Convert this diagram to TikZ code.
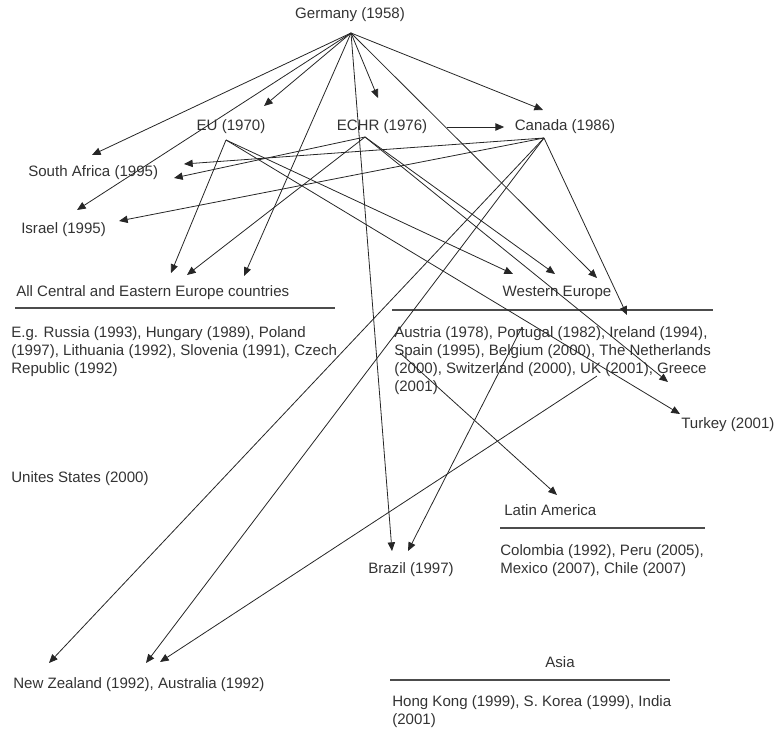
\documentclass[tikz,border=0pt]{standalone}
\usepackage{fontspec}
\setmainfont{Liberation Sans}
\usetikzlibrary{arrows.meta}

\begin{document}
\begin{tikzpicture}[x=0.75pt,y=0.75pt,yscale=-1,xscale=1,
	lbl/.style={inner sep=0.75pt, text=black!80, font=\fontsize{11.3}{13.7}\selectfont},
	blk/.style={lbl, anchor=north west, align=left},
	arr/.style={-{Triangle[length=6.5pt,width=5.5pt]}, line width=0.6pt, black!85},
	rulebar/.style={line width=1.1pt, black!70}]
	\useasboundingbox (0,0) rectangle (777,728);
	
	% Text Node
	\node[lbl] (ger) at (350,15) {Germany (1958)};
	% Text Node
	\node[lbl] (eu) at (231,127) {EU (1970)};
	% Text Node
	\node[lbl] (echr) at (382,127) {ECHR (1976)};
	% Text Node
	\node[lbl] (can) at (565,127) {Canada (1986)};
	% Text Node
	\node[lbl, anchor=west] (safr) at (27,173) {South Africa (1995)};
	% Text Node
	\node[lbl, anchor=west] (isr) at (20,230) {Israel (1995)};
	% Text Node
	\node[lbl, anchor=west] (cee) at (15,293) {All Central and Eastern Europe countries};
	% Text Node
	\node[blk] (ceelist) at (10,325) {E.g. Russia (1993), Hungary (1989), Poland\\(1997), Lithuania (1992), Slovenia (1991), Czech\\Republic (1992)};
	% Text Node
	\node[lbl, anchor=west] (usa) at (10,479) {Unites States (2000)};
	% Text Node
	\node[lbl] (weu) at (557,293) {Western Europe};
	% Text Node
	\node[blk] (welist) at (393,325) {Austria (1978), Portugal (1982), Ireland (1994),\\Spain (1995), Belgium (2000), The Netherlands\\(2000), Switzerland (2000), UK (2001), Greece\\(2001)};
	% Text Node
	\node[lbl, anchor=west] (tur) at (680,425) {Turkey (2001)};
	% Text Node
	\node[lbl] (bra) at (411,570) {Brazil (1997)};
	% Text Node
	\node[lbl, anchor=west] (lat) at (503,510) {Latin America};
	% Text Node
	\node[blk] (latlist) at (499,543) {Colombia (1992), Peru (2005),\\Mexico (2007), Chile (2007)};
	% Text Node
	\node[lbl] (asia) at (560,662) {Asia};
	% Text Node
	\node[blk] (asialist) at (391,694) {Hong Kong (1999), S. Korea (1999), India\\(2001)};
	% Text Node
	\node[lbl, anchor=west] (nzau) at (12,685) {New Zealand (1992), Australia (1992)};
	
	%Shape: rules under the group names
	\draw[rulebar] (15,308) -- (335,308);
	\draw[rulebar] (392,310) -- (713,310);
	\draw[rulebar] (500,528) -- (705,528);
	\draw[rulebar] (390,680) -- (670,680);
	
	% start points of the arrows
	\coordinate (gerO) at (351,33);
	\coordinate (euO) at (226,140);
	\coordinate (echrO) at (365,137);
	\coordinate (canO) at (544,138);
	\coordinate (spainO) at (400,353);
	\coordinate (portO) at (522,327);
	\coordinate (ukO) at (597,376);
	
	% arrow tips
	\coordinate (tipEU) at (264,106);
	\coordinate (tipECHR) at (378,98);
	\coordinate (tipCan) at (543,110);
	\coordinate (tipSAa) at (92,155);
	\coordinate (tipSAb) at (184,164);
	\coordinate (tipSAc) at (174,178);
	\coordinate (tipIsa) at (77,210);
	\coordinate (tipIsb) at (119,221);
	\coordinate (tipCEEa) at (171,273);
	\coordinate (tipCEEb) at (187,275);
	\coordinate (tipCEEc) at (244,276);
	\coordinate (tipWEa) at (513,274);
	\coordinate (tipWEb) at (555,274);
	\coordinate (tipWEc) at (597,278);
	\coordinate (tipWEd) at (627,315);
	\coordinate (tipGre) at (668,382);
	\coordinate (tipTur) at (680,414);
	\coordinate (tipLA) at (557,495);
	\coordinate (tipBra) at (392,551);
	\coordinate (tipBrb) at (408,551);
	\coordinate (tipNZ) at (49,663);
	\coordinate (tipAua) at (146,663);
	\coordinate (tipAub) at (160,662);
	
	% Germany
	\draw[arr] (gerO) -- (tipSAa);
	\draw[arr] (gerO) -- (tipIsa);
	\draw[arr] (gerO) -- (tipEU);
	\draw[arr] (gerO) -- (tipECHR);
	\draw[arr] (gerO) -- (tipCan);
	\draw[arr] (gerO) -- (tipCEEc);
	\draw[arr] (gerO) -- (tipWEc);
	\draw[arr] (gerO) -- (tipBra);
	% EU
	\draw[arr] (euO) -- (tipCEEa);
	\draw[arr] (euO) -- (tipWEa);
	\draw[arr] (euO) -- (tipTur);
	% ECHR
	\draw[arr] ([xshift=14pt]echr.east) -- ([xshift=-7pt]can.west);
	\draw[arr] (echrO) -- (tipSAc);
	\draw[arr] (echrO) -- (tipCEEb);
	\draw[arr] (echrO) -- (tipWEb);
	\draw[arr] (echrO) -- (tipGre);
	% Canada
	\draw[arr] (canO) -- (tipSAb);
	\draw[arr] (canO) -- (tipIsb);
	\draw[arr] (canO) -- (tipWEd);
	\draw[arr] (canO) -- (tipNZ);
	\draw[arr] (canO) -- (tipAua);
	% Western Europe
	\draw[arr] (spainO) -- (tipLA);
	\draw[arr] (portO) -- (tipBrb);
	\draw[arr] (ukO) -- (tipAub);
	
\end{tikzpicture}
\end{document}
